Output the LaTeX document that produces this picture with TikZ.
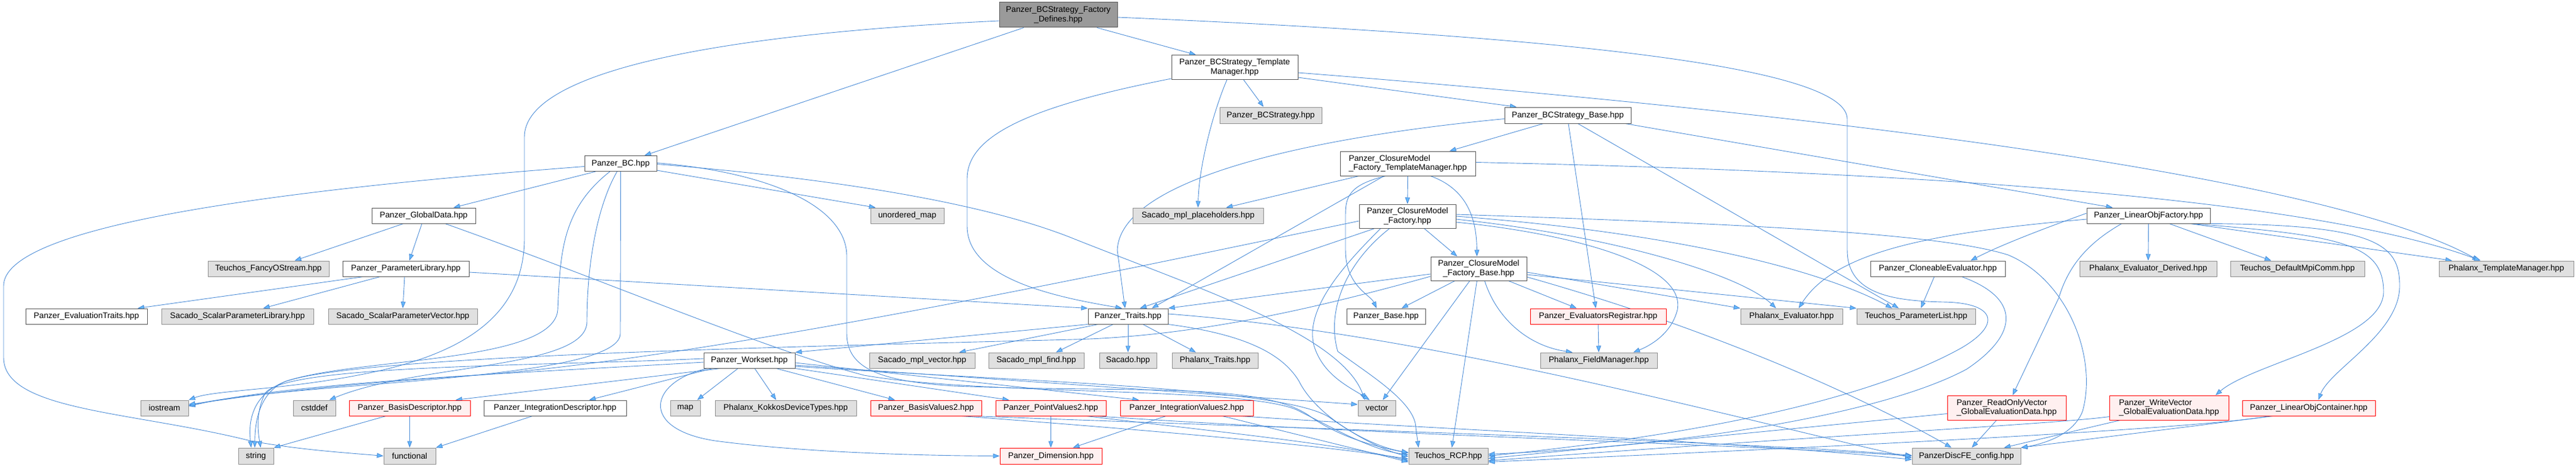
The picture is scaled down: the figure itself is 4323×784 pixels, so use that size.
\documentclass[tikz,border=0pt]{standalone}
\usepackage{fontspec}
\setmainfont{Liberation Sans}
\usetikzlibrary{arrows.meta,backgrounds}
\definecolor{edgeblue}{HTML}{4A8BD6}
\definecolor{tipblue}{HTML}{63B8FF}
\definecolor{extfill}{HTML}{E0E0E0}
\definecolor{extline}{HTML}{8C8C8C}
\definecolor{docline}{HTML}{555555}
\definecolor{trunfill}{HTML}{FFF0F0}
\definecolor{rootfill}{HTML}{9A9A9A}

\begin{document}
\begin{tikzpicture}[x=1pt, y=-1pt,
    box/.style={rectangle, inner sep=0pt, minimum height=26, line width=1pt, align=center,
      font=\fontsize{13.8}{15.5}\selectfont},
    doc/.style={box, draw=docline, fill=white},
    ext/.style={box, draw=extline, fill=extfill},
    trunc/.style={box, draw=red, fill=trunfill},
    root/.style={box, draw=docline, fill=rootfill},
    dep/.style={draw=edgeblue, line width=0.9pt, -{Triangle[length=11pt, width=8pt, fill=tipblue]}}]
    \useasboundingbox (0,0) rectangle (4323,784);

    % Nodes, row by row
    \node[root, minimum width=198, minimum height=42] (fd) at (1776,25) {Panzer\_BCStrategy\_Factory\\\_Defines.hpp};
    \node[doc, minimum width=212, minimum height=41] (tm) at (2072,113) {Panzer\_BCStrategy\_Template\\Manager.hpp};
    \node[ext, minimum width=171, minimum height=27] (bcs) at (2132.5,193.5) {Panzer\_BCStrategy.hpp};
    \node[doc, minimum width=212, minimum height=27] (base) at (2631,193.5) {Panzer\_BCStrategy\_Base.hpp};
    \node[doc, minimum width=121] (bc) at (1041.5,274.5) {Panzer\_BC.hpp};
    \node[doc, minimum width=227, minimum height=41, align=left] (cmtm) at (2362.5,274.5) {Panzer\_ClosureModel\\\_Factory\_TemplateManager.hpp};
    \node[doc, minimum width=174] (gd) at (711,362) {Panzer\_GlobalData.hpp};
    \node[ext, minimum width=123] (umap) at (1522.5,362) {unordered\_map};
    \node[ext, minimum width=219] (plh) at (2010.5,362) {Sacado\_mpl\_placeholders.hpp};
    \node[doc, minimum width=162, minimum height=40] (cmf) at (2362,363) {Panzer\_ClosureModel\\\_Factory.hpp};
    \node[doc, minimum width=207] (lof) at (3605.5,362) {Panzer\_LinearObjFactory.hpp};
    \node[ext, minimum width=203] (fos) at (450.5,451) {Teuchos\_FancyOStream.hpp};
    \node[doc, minimum width=212] (plib) at (681,451) {Panzer\_ParameterLibrary.hpp};
    \node[doc, minimum width=161, minimum height=40] (cmfb) at (2481.5,451) {Panzer\_ClosureModel\\\_Factory\_Base.hpp};
    \node[doc, minimum width=226] (clone) at (3252,451) {Panzer\_CloneableEvaluator.hpp};
    \node[ext, minimum width=230] (evd) at (3605,451) {Phalanx\_Evaluator\_Derived.hpp};
    \node[ext, minimum width=225] (mpi) at (3855.5,451) {Teuchos\_DefaultMpiComm.hpp};
    \node[ext, minimum width=226] (ptm) at (4206,451) {Phalanx\_TemplateManager.hpp};
    \node[doc, minimum width=204] (evt) at (145,531) {Panzer\_EvaluationTraits.hpp};
    \node[ext, minimum width=255] (spl) at (398.5,531) {Sacado\_ScalarParameterLibrary.hpp};
    \node[ext, minimum width=250] (spv) at (676,531) {Sacado\_ScalarParameterVector.hpp};
    \node[doc, minimum width=134] (traits) at (1893,531) {Panzer\_Traits.hpp};
    \node[doc, minimum width=132] (pbase) at (2326,531) {Panzer\_Base.hpp};
    \node[trunc, minimum width=228] (ereg) at (2682,531) {Panzer\_EvaluatorsRegistrar.hpp};
    \node[ext, minimum width=171] (pev) at (3006.5,531) {Phalanx\_Evaluator.hpp};
    \node[ext, minimum width=199] (tpl) at (3215.5,531) {Teuchos\_ParameterList.hpp};
    \node[doc, minimum width=153] (ws) at (1257.5,605) {Panzer\_Workset.hpp};
    \node[ext, minimum width=177] (mplv) at (1547.5,605) {Sacado\_mpl\_vector.hpp};
    \node[ext, minimum width=160] (mplf) at (1739,605) {Sacado\_mpl\_find.hpp};
    \node[ext, minimum width=96] (sac) at (1893,605) {Sacado.hpp};
    \node[ext, minimum width=144] (phtr) at (2039,605) {Phalanx\_Traits.hpp};
    \node[ext, minimum width=196] (fm) at (2683,605) {Phalanx\_FieldManager.hpp};
    \node[ext, minimum width=80] (ios) at (276,685) {iostream};
    \node[ext, minimum width=71] (cstd) at (527.5,685) {cstddef};
    \node[trunc, minimum width=203] (bdesc) at (687.5,685) {Panzer\_BasisDescriptor.hpp};
    \node[doc, minimum width=239] (idesc) at (931.5,685) {Panzer\_IntegrationDescriptor.hpp};
    \node[ext, minimum width=50] (map) at (1150,685) {map};
    \node[ext, minimum width=237] (kok) at (1318.5,685) {Phalanx\_KokkosDeviceTypes.hpp};
    \node[trunc, minimum width=186] (bv2) at (1554,685) {Panzer\_BasisValues2.hpp};
    \node[trunc, minimum width=185] (pv2) at (1763.5,685) {Panzer\_PointValues2.hpp};
    \node[trunc, minimum width=223] (iv2) at (1991.5,685) {Panzer\_IntegrationValues2.hpp};
    \node[ext, minimum width=63] (vec) at (2310.5,685) {vector};
    \node[trunc, minimum width=199, minimum height=41, align=left] (rov) at (3367.5,684.5) {Panzer\_ReadOnlyVector\\\_GlobalEvaluationData.hpp};
    \node[trunc, minimum width=200, minimum height=41, align=left] (wv) at (3640,684.5) {Panzer\_WriteVector\\\_GlobalEvaluationData.hpp};
    \node[trunc, minimum width=223] (loc) at (3874.5,685) {Panzer\_LinearObjContainer.hpp};
    \node[ext, minimum width=59, minimum height=27] (str) at (429.5,765.5) {string};
    \node[ext, minimum width=87, minimum height=27] (func) at (687.5,765.5) {functional};
    \node[trunc, minimum width=171, minimum height=27] (dim) at (1763.5,765.5) {Panzer\_Dimension.hpp};
    \node[ext, minimum width=133, minimum height=27] (rcp) at (2430.5,765.5) {Teuchos\_RCP.hpp};
    \node[ext, minimum width=182, minimum height=27] (cfg) at (3300,765.5) {PanzerDiscFE\_config.hpp};

    \begin{pgfonlayer}{background}
    % Factory_Defines
    \draw[dep] ([yshift=-10]fd.west) .. controls (1150,60) and (880,130) .. (880,230) -- (880,400)
      .. controls (880,540) and (760,600) .. (600,630) .. controls (470,655) and (360,655) .. (ios.north east);
    \draw[dep] ([xshift=-58]fd.south) -- ([xshift=40]bc.north);
    \draw[dep] ([xshift=65]fd.south) -- ([xshift=-65]tm.north);
    \draw[dep] ([yshift=-4]fd.east) .. controls (2600,60) and (3100,110) .. (3100,200) -- (3100,420)
      .. controls (3100,495) and (3180,505) .. (3260,507) .. controls (3350,508) and (3360,545) .. (3290,585)
      .. controls (3100,690) and (2750,740) .. (rcp.east);

    % BCStrategy_TemplateManager
    \draw[dep] ([xshift=15]tm.south) -- ([xshift=-12]bcs.north);
    \draw[dep] ([yshift=4]tm.south east) -- ([xshift=-86]base.north);
    \draw[dep] ([xshift=-13]tm.south) .. controls (2035,190) and (2012,280) .. (plh.north);
    \draw[dep] ([yshift=2]tm.south west) .. controls (1720,180) and (1623,230) .. (1623,300) -- (1623,380)
      .. controls (1623,470) and (1780,500) .. ([xshift=-10]traits.north);
    \draw[dep] ([yshift=-9]tm.east) .. controls (3300,210) and (3950,320) .. ([xshift=-46]ptm.north);

    % Panzer_BC
    \draw[dep] ([yshift=-5]bc.west) .. controls (450,320) and (6,380) .. (6,480) -- (6,600)
      .. controls (6,690) and (220,690) .. (420,740) .. controls (500,755) and (580,760) .. (func.west);
    \draw[dep] ([xshift=-42]bc.south) -- ([xshift=50]gd.north);
    \draw[dep] ([yshift=2]bc.south east) -- ([xshift=-53]umap.north);
    \draw[dep] ([yshift=-1]bc.east) .. controls (1400,300) and (1650,340) .. (1800,400)
      .. controls (2000,480) and (2250,560) .. ([xshift=-20]vec.north);
    \draw[dep] ([yshift=1]bc.east) .. controls (1300,290) and (1421,350) .. (1421,430) -- (1421,560)
      .. controls (1421,620) and (1480,640) .. (1600,648) .. controls (1900,660) and (2120,640) .. (2200,700)
      .. controls (2250,735) and (2310,750) .. ([yshift=5]rcp.west);
    \draw[dep] ([xshift=-18]bc.south) .. controls (945,350) and (940,420) .. (936,520)
      .. controls (930,610) and (600,600) .. (480,640) .. controls (415,665) and (418,720) .. ([xshift=-8]str.north);
    \draw[dep] ([xshift=-6]bc.south) .. controls (1000,350) and (985,450) .. (985,540)
      .. controls (985,620) and (700,610) .. ([xshift=25]cstd.north);
    \draw[dep] (bc.south) -- (1041,560) .. controls (1041,640) and (500,640) .. ([yshift=4]ios.east);

    % BCStrategy_Base
    \draw[dep] ([xshift=-41]base.south) -- ([xshift=70]cmtm.north);
    \draw[dep] ([yshift=-6]base.west) .. controls (2200,230) and (1880,300) .. (1875,420) -- ([xshift=-5]traits.north);
    \draw[dep] ([xshift=1]base.south) -- ([xshift=-4]ereg.north);
    \draw[dep] ([xshift=17]base.south) -- ([xshift=-29]tpl.north);
    \draw[dep] ([xshift=-10]base.south east) -- ([xshift=-60]lof.north);

    % ClosureModel_Factory_TemplateManager
    \draw[dep] ([xshift=-82]cmtm.south) -- ([xshift=47]plh.north);
    \draw[dep] (cmtm.south) -- (cmf.north);
    \draw[dep] ([xshift=-40]cmtm.south) -- ([xshift=40]traits.north);
    \draw[dep] ([xshift=-37]cmtm.south) .. controls (2265,310) and (2258,330) .. (2258,360) -- (2258,420)
      .. controls (2258,480) and (2300,495) .. ([xshift=-16]pbase.north);
    \draw[dep] ([xshift=38]cmtm.south) .. controls (2470,320) and (2478,380) .. ([xshift=-3]cmfb.north);
    \draw[dep] ([yshift=2]cmtm.east) .. controls (3300,290) and (3900,340) .. ([xshift=-43]ptm.north);

    % GlobalData, ParameterLibrary
    \draw[dep] ([xshift=-34]gd.south) -- ([xshift=44]fos.north);
    \draw[dep] ([xshift=-3]gd.south) -- ([xshift=6]plib.north);
    \draw[dep] ([xshift=36]gd.south) .. controls (1000,465) and (1280,585) .. (1450,630)
      .. controls (1650,665) and (2100,648) .. (2180,690) .. controls (2240,720) and (2300,755) .. ([yshift=2]rcp.west);
    \draw[dep] ([xshift=-71]plib.south) -- ([xshift=86]evt.north);
    \draw[dep] ([xshift=-43]plib.south) -- ([xshift=43]spl.north);
    \draw[dep] ([xshift=-2]plib.south) -- (spv.north);
    \draw[dep] ([yshift=-6]plib.east) -- (traits.north west);

    % LinearObjFactory
    \draw[dep] ([yshift=4]lof.west) .. controls (3440,380) and (3360,410) .. ([xshift=55]clone.north);
    \draw[dep] ([yshift=-6]lof.west) .. controls (3250,390) and (3080,420) .. ([xshift=12]pev.north);
    \draw[dep] ([xshift=-45]lof.south) .. controls (3500,410) and (3470,450) .. (3455,500) -- ([xshift=10]rov.north);
    \draw[dep] (lof.south) -- (evd.north);
    \draw[dep] ([xshift=35]lof.south) -- ([xshift=-44]mpi.north);
    \draw[dep] ([xshift=70]lof.south) -- ([xshift=-91]ptm.north);
    \draw[dep] ([xshift=72]lof.south) .. controls (3930,395) and (4000,410) .. (4000,490)
      .. controls (4000,570) and (3780,610) .. ([xshift=78]wv.north);
    \draw[dep] ([xshift=80]lof.south) .. controls (3990,375) and (4027,410) .. (4027,480)
      .. controls (4027,560) and (3910,620) .. ([xshift=16]loc.north);

    % CloneableEvaluator, EvaluatorsRegistrar
    \draw[dep] ([xshift=-6]clone.south) -- ([xshift=8]tpl.north);
    \draw[dep] ([xshift=40]clone.south) .. controls (3390,500) and (3390,560) .. (3300,620)
      .. controls (3150,700) and (2800,750) .. ([yshift=3]rcp.east);
    \draw[dep] (ereg.south) -- (fm.north);

    % Panzer_Traits
    \draw[dep] (traits.south west) -- (ws.north east);
    \draw[dep] ([xshift=-50]traits.south) -- ([xshift=62]mplv.north);
    \draw[dep] ([xshift=-25]traits.south) -- ([xshift=33]mplf.north);
    \draw[dep] (traits.south) -- (sac.north);
    \draw[dep] ([xshift=25]traits.south) -- ([xshift=-32]phtr.north);
    \draw[dep] (traits.south east) .. controls (2080,560) and (2150,590) .. (2180,640)
      .. controls (2210,700) and (2300,750) .. ([yshift=6]rcp.west);
    \draw[dep] ([yshift=4]traits.east) .. controls (2400,560) and (2900,700) .. ([yshift=-3]cfg.west);

    % Panzer_Workset
    \draw[dep] ([yshift=-3]ws.west) .. controls (900,625) and (500,640) .. ([yshift=3]ios.east);
    \draw[dep] ([yshift=3]ws.west) .. controls (900,615) and (480,612) .. (445,660)
      .. controls (430,690) and (432,720) .. ([xshift=8]str.north);
    \draw[dep] ([xshift=-48]ws.south) -- ([xshift=77]bdesc.north);
    \draw[dep] ([xshift=-62]ws.south) -- ([xshift=57]idesc.north);
    \draw[dep] ([xshift=-19]ws.south) -- ([xshift=20]map.north);
    \draw[dep] ([xshift=9]ws.south) -- ([xshift=-16]kok.north);
    \draw[dep] ([xshift=45]ws.south) -- ([xshift=-52]bv2.north);
    \draw[dep] (ws.south east) -- ([xshift=-70]pv2.north);
    \draw[dep] ([yshift=-4]ws.east) -- ([xshift=-80]iv2.north);
    \draw[dep] ([xshift=-70]ws.south) .. controls (1090,640) and (1070,720) .. (1200,740)
      .. controls (1350,760) and (1550,765) .. (dim.west);
    \draw[dep] ([yshift=-8]ws.east) -- ([yshift=6]vec.west);
    \draw[dep] ([yshift=-10]ws.east) .. controls (1700,640) and (2150,650) .. (2230,700)
      .. controls (2280,735) and (2320,755) .. ([yshift=-1]rcp.west);

    % Descriptors and Values
    \draw[dep] ([xshift=-40]bdesc.south) -- (str.north east);
    \draw[dep] (bdesc.south) -- (func.north);
    \draw[dep] ([xshift=-38]idesc.south) -- (func.north east);
    \draw[dep] ([xshift=60]bv2.south) .. controls (1900,720) and (2200,745) .. ([yshift=-5]rcp.west);
    \draw[dep] ([xshift=80]bv2.south) .. controls (2200,720) and (2900,740) .. ([yshift=1]cfg.west);
    \draw[dep] (pv2.south) -- (dim.north);
    \draw[dep] ([xshift=60]pv2.south) .. controls (2000,720) and (2250,745) .. ([yshift=-8]rcp.west);
    \draw[dep] ([xshift=75]pv2.south) .. controls (2300,730) and (2900,745) .. (cfg.west);
    \draw[dep] ([xshift=-35]iv2.south) -- ([xshift=37]dim.north);
    \draw[dep] ([xshift=60]iv2.south) -- ([yshift=-10]rcp.west);
    \draw[dep] ([xshift=90]iv2.south) .. controls (2400,720) and (2900,740) .. ([yshift=-6]cfg.west);

    % Global evaluation data, containers
    \draw[dep] ([yshift=-10]rov.west) -- ([yshift=-4]rcp.east);
    \draw[dep] ([xshift=-17]rov.south) -- ([xshift=9]cfg.north);
    \draw[dep] ([yshift=-15]wv.west) .. controls (3450,712) and (3000,735) .. ([yshift=-8]rcp.east);
    \draw[dep] ([xshift=-82]wv.south) -- ([xshift=63]cfg.north);
    \draw[dep] ([xshift=-66]loc.south) .. controls (3700,718) and (3200,745) .. ([yshift=-10]rcp.east);
    \draw[dep] ([xshift=-60]loc.south) -- (cfg.north east);

    % ClosureModel_Factory
    \draw[dep] ([xshift=28]cmf.south) -- ([xshift=-36]cmfb.north);
    \draw[dep] ([xshift=-55]cmf.south) -- ([xshift=20]traits.north);
    \draw[dep] ([xshift=-45]cmf.south) .. controls (2250,450) and (2190,520) .. (2205,580)
      .. controls (2220,630) and (2265,650) .. ([xshift=-12]vec.north);
    \draw[dep] ([xshift=-30]cmf.south) .. controls (2260,440) and (2225,520) .. (2245,590)
      .. controls (2300,630) and (2365,670) .. (2375,710) -- ([xshift=-50]rcp.north);
    \draw[dep] ([yshift=-10]cmf.east) .. controls (2620,390) and (2830,440) .. (2815,520)
      .. controls (2805,560) and (2770,580) .. ([xshift=58]fm.north);
    \draw[dep] ([yshift=-5]cmf.east) .. controls (2700,395) and (2920,460) .. ([xshift=-26]pev.north);
    \draw[dep] (cmf.east) .. controls (2800,390) and (3050,450) .. ([xshift=-40]tpl.north);
    \draw[dep] ([yshift=3]cmf.east) .. controls (2900,375) and (3250,390) .. (3370,428)
      .. controls (3470,470) and (3520,600) .. (3495,690) .. controls (3480,730) and (3430,745) .. (cfg.north east);
    \draw[dep] ([yshift=-8]cmf.west) .. controls (1900,450) and (1200,600) .. (800,630)
      .. controls (500,650) and (400,668) .. ([yshift=6]ios.east);

    % ClosureModel_Factory_Base
    \draw[dep] ([xshift=-40]cmfb.south) -- ([xshift=26]pbase.north);
    \draw[dep] ([xshift=-15]cmfb.south) -- ([xshift=10]vec.north);
    \draw[dep] ([xshift=-3]cmfb.south) -- ([xshift=6]rcp.north);
    \draw[dep] ([xshift=10]cmfb.south) .. controls (2510,530) and (2560,580) .. ([xshift=-44]fm.north);
    \draw[dep] ([xshift=50]cmfb.south) -- ([xshift=-36]ereg.north);
    \draw[dep] ([yshift=-6]cmfb.east) -- (pev.north west);
    \draw[dep] ([yshift=-10]cmfb.east) -- (tpl.north west);
    \draw[dep] ([yshift=-14]cmfb.east) .. controls (2900,560) and (3150,680) .. ([xshift=-25]cfg.north);
    \draw[dep] ([yshift=-9]cmfb.west) -- (traits.north east);
    \draw[dep] ([yshift=-13]cmfb.west) .. controls (2200,520) and (2000,565) .. (1800,570)
      .. controls (1200,585) and (600,600) .. (480,640) .. controls (430,660) and (428,720) .. ([xshift=-2]str.north);
    \end{pgfonlayer}
\end{tikzpicture}
\end{document}
